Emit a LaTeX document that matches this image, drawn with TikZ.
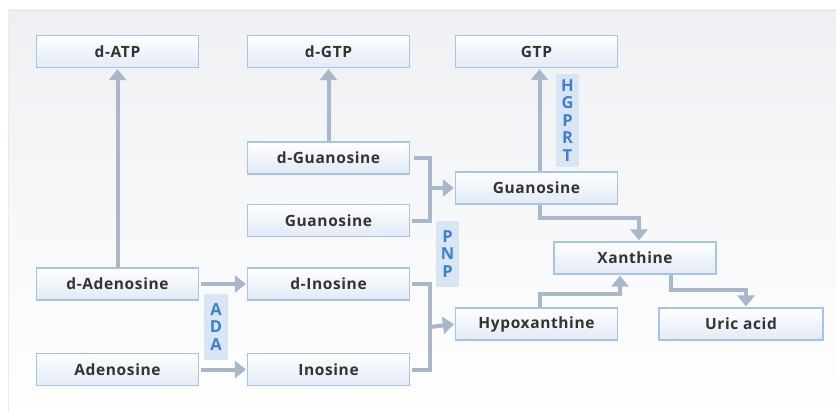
\documentclass[tikz,border=0pt]{standalone}
\usepackage{fontspec}
\setmainfont{Open Sans}
\newfontfamily\boxfont[LetterSpace=4]{Open Sans}
\usetikzlibrary{arrows.meta,positioning}

\definecolor{boxline}{HTML}{A4C5E8}
\definecolor{boxbot}{HTML}{E2EAF5}
\definecolor{arrowcol}{HTML}{A9B7CB}
\definecolor{enzfill}{HTML}{D7E5F4}
\definecolor{enztext}{HTML}{3D80CE}
\definecolor{txt}{HTML}{333333}
\definecolor{panel}{HTML}{EEF0F3}

\begin{document}
\begin{tikzpicture}[x=1pt,y=-1pt,
  met/.style={draw=boxline,line width=1.2pt,top color=white,bottom color=boxbot,
    minimum width=162pt,minimum height=32pt,inner sep=0pt,
    font=\boxfont\fontsize{15.5}{18}\selectfont\bfseries,text=txt},
  enz/.style={fill=enzfill,inner sep=0pt,minimum width=23pt,align=center,
    font=\fontsize{16.5}{17.5}\selectfont\bfseries,text=enztext},
  arr/.style={draw=arrowcol,line width=4pt,-{Triangle[width=17pt,length=11pt]},
    shorten >=1pt},
  link/.style={draw=arrowcol,line width=4pt}]
  \useasboundingbox (0,0) rectangle (836,412);
  \shade[top color=panel,bottom color=white,draw=black!8] (8,10) rectangle (840,416);

  % metabolites
  \path
  node[met] (datp)  at (117.5,51.5) {d-ATP}
  node[met] (dgtp)  at (328.5,51.5) {d-GTP}
  node[met] (gtp)   at (536.5,51.5) {GTP}
  node[met] (dguan) at (328.5,158)  {d-Guanosine}
  node[met] (guanl) at (328.5,220.5){Guanosine}
  node[met] (guanr) at (536.5,188)  {Guanosine}
  node[met] (dado)  at (117.5,284)  {d-Adenosine}
  node[met] (ado)   at (117.5,369.5){Adenosine}
  node[met] (dino)  at (328.5,284)  {d-Inosine}
  node[met] (ino)   at (328.5,369.5){Inosine}
  node[met] (xan)   at (635,258)    {Xanthine}
  node[met] (hypo)  at (536.5,324)  {Hypoxanthine}
  node[met,minimum width=164pt] (uric) at (741,324) {Uric acid}
  ;

  % enzymes
  \node[enz,minimum height=93pt] (hgprt) at (567.5,120.5) {H\\G\\P\\R\\T};
  \node[enz,minimum height=66pt] (pnp)   at (447.5,254)   {P\\N\\P};
  \node[enz,minimum height=66pt,minimum width=24pt] (ada) at (216,327) {A\\D\\A};

  \coordinate (jg) at (430,188);
  \coordinate (ji) at (430,327);

  % arrows
  \draw[arr] (dado) -- (datp);
  \draw[arr] (dguan) -- (dgtp);
  \draw[arr] ([xshift=3pt]guanr.north) -- ([xshift=3pt]gtp.south);
  \draw[arr,shorten <=2pt] (dado) -- (dino);
  \draw[arr,shorten <=2pt] (ado) -- (ino);
  \draw[link,shorten <=2pt] ([xshift=2pt]dguan.east) -| (jg) |- ([xshift=2pt]guanl.east);
  \draw[arr] (jg) -- (guanr.west);
  \draw[link] ([xshift=2pt]dino.east) -| (ji) |- ([xshift=2pt]ino.east);
  \draw[arr] (ji) -- (hypo.west);
  \draw[arr] ([xshift=3pt]guanr.south) -- ++(0,13) -| ([xshift=4pt]xan.north);
  \draw[arr] ([xshift=3pt]hypo.north) -- ++(0,-13) -| ([xshift=-15pt]xan.south);
  \draw[arr] ([xshift=36pt]xan.south) -- ++(0,15) -| ([xshift=5pt]uric.north);
\end{tikzpicture}
\end{document}
